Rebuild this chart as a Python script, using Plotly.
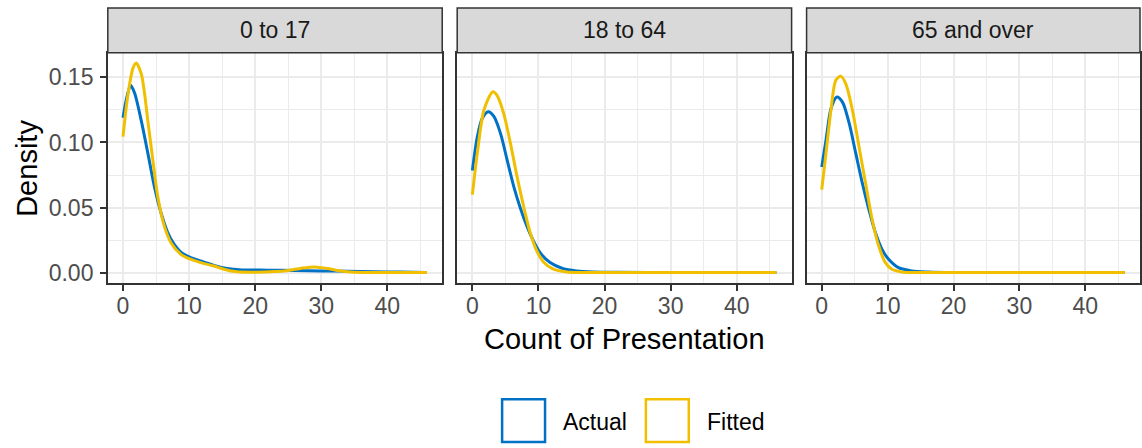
import plotly.graph_objects as go

# ---- data ----
panels = ["0 to 17", "18 to 64", "65 and over"]
series_names = ["Actual", "Fitted"]
series_colors = ["#0072C6", "#F0C000"]

p1_actual_x = [0, 0.5, 1.15, 1.75, 2.75, 3.75, 4.75, 5.75, 6.75, 7.75, 8.75, 10, 11.75, 13.75, 15.75, 18, 22, 26, 30, 34, 38, 42, 46]
p1_actual_y = [0.119, 0.133, 0.144, 0.138, 0.117, 0.092, 0.066, 0.046, 0.031, 0.0217, 0.0158, 0.0122, 0.0089, 0.0056, 0.0032, 0.0021, 0.0019, 0.0016, 0.0013, 0.0010, 0.0007, 0.0004, 0.0001]
p1_fitted_x = [0, 0.5, 1.0, 1.5, 2.0, 2.75, 3.25, 3.75, 4.5, 5.25, 6.25, 7.25, 8.75, 10, 11.75, 13.75, 15.25, 17.25, 20, 23, 25, 27, 29, 31, 33, 35, 40, 46]
p1_fitted_y = [0.1045, 0.1275, 0.145, 0.157, 0.161, 0.153, 0.138, 0.117, 0.087, 0.0587, 0.0357, 0.023, 0.014, 0.0107, 0.0077, 0.0051, 0.0026, 0.0006, 0.0003, 0.0008, 0.0017, 0.0034, 0.0044, 0.0032, 0.0012, 0.0003, 0.0001, 0.0]

p2_actual_x = [0, 0.75, 1.5, 2.4, 3.25, 4.25, 5.25, 6.25, 7.25, 8.25, 9.25, 10.25, 11.75, 13.75, 15.75, 18.25, 22, 30, 46]
p2_actual_y = [0.0785, 0.1045, 0.1186, 0.1237, 0.120, 0.107, 0.0867, 0.0663, 0.0497, 0.0357, 0.0242, 0.0153, 0.0077, 0.003, 0.0013, 0.0005, 0.0002, 0.0001, 0.0]
p2_fitted_x = [0, 0.75, 1.75, 3.1, 3.75, 4.75, 5.75, 6.75, 7.75, 8.75, 9.75, 10.75, 12.25, 14.25, 17, 22, 46]
p2_fitted_y = [0.060, 0.092, 0.125, 0.139, 0.136, 0.122, 0.0995, 0.074, 0.051, 0.0306, 0.0166, 0.0082, 0.0026, 0.0005, 0.0001, 0.0, 0.0]

p3_actual_x = [0, 0.65, 1.4, 2.3, 3.15, 4.15, 5.15, 6.15, 7.15, 8.15, 9.15, 10.15, 11.65, 13.65, 16.15, 20, 46]
p3_actual_y = [0.0811, 0.102, 0.126, 0.135, 0.131, 0.115, 0.092, 0.0689, 0.0485, 0.0306, 0.0179, 0.0102, 0.0038, 0.0013, 0.0005, 0.0001, 0.0]
p3_fitted_x = [0, 0.65, 1.4, 2.15, 2.9, 3.65, 4.65, 5.65, 6.65, 7.65, 8.65, 9.65, 10.65, 12.15, 14, 20, 46]
p3_fitted_y = [0.0638, 0.092, 0.125, 0.148, 0.151, 0.145, 0.125, 0.097, 0.0689, 0.0408, 0.0204, 0.0077, 0.0026, 0.0005, 0.0001, 0.0, 0.0]

x_ticks = [0, 10, 20, 30, 40]
y_ticks = [0.00, 0.05, 0.10, 0.15]
y_tick_labels = ["0.00", "0.05", "0.10", "0.15"]
x_title = "Count of Presentation"
y_title = "Density"

curves = [
    [(p1_actual_x, p1_actual_y), (p1_fitted_x, p1_fitted_y)],
    [(p2_actual_x, p2_actual_y), (p2_fitted_x, p2_fitted_y)],
    [(p3_actual_x, p3_actual_y), (p3_fitted_x, p3_fitted_y)],
]

# ---- layout geometry ----
W, H = 1142, 448
FONT = "Liberation Sans, Arial, Helvetica, sans-serif"
TICK_SIZE = 23
TITLE_SIZE = 29
panel_px = [(108, 443), (458, 793), (808, 1142)]
panel_top, panel_bot = 53, 285
strip_top = 8

def px_x(p):
    return p / W

def px_y(p):
    return 1 - p / H

xmax_all = 46
xr = [-0.05 * xmax_all, xmax_all * 1.05]
ymax_all = max(max(p1_fitted_y), max(p1_actual_y))
yr = [-0.05 * ymax_all, ymax_all * 1.05]

fig = go.Figure()
for i, pair in enumerate(curves):
    for j, (xs, ys) in enumerate(pair):
        fig.add_trace(go.Scatter(
            x=xs, y=ys, mode="lines",
            line=dict(color=series_colors[j], width=3, shape="spline", smoothing=0.8),
            name=series_names[j], showlegend=False,
            xaxis="x" if i == 0 else f"x{i+1}",
            yaxis="y" if i == 0 else f"y{i+1}",
        ))

grid_major = "#EBEBEB"
layout = dict(
    width=W, height=H, autosize=False,
    margin=dict(l=0, r=0, t=0, b=0),
    paper_bgcolor="white", plot_bgcolor="white",
    font=dict(family=FONT),
    showlegend=False,
)
for i, (a, b) in enumerate(panel_px):
    sx = "" if i == 0 else str(i + 1)
    layout[f"xaxis{sx}"] = dict(
        domain=[px_x(a), px_x(b)], range=xr, anchor=f"y{sx}",
        tickvals=x_ticks, ticks="outside", ticklen=6, tickwidth=2, tickcolor="#333333",
        tickfont=dict(size=TICK_SIZE, color="#4D4D4D", family=FONT),
        ticklabelstandoff=-4,
        showgrid=True, gridcolor=grid_major, gridwidth=2,
        minor=dict(dtick=5, tick0=0, showgrid=True, gridcolor=grid_major, gridwidth=1, ticks=""),
        showline=True, mirror=True, linecolor="#333333", linewidth=1.5,
        zeroline=False, fixedrange=True,
    )
    layout[f"yaxis{sx}"] = dict(
        domain=[px_y(panel_bot), px_y(panel_top)], range=yr, anchor=f"x{sx}",
        tickvals=y_ticks, ticktext=y_tick_labels,
        ticks="outside" if i == 0 else "", ticklen=6, tickwidth=2, tickcolor="#333333",
        showticklabels=(i == 0),
        tickfont=dict(size=TICK_SIZE, color="#4D4D4D", family=FONT),
        ticklabelstandoff=2,
        showgrid=True, gridcolor=grid_major, gridwidth=2,
        minor=dict(dtick=0.025, tick0=0, showgrid=True, gridcolor=grid_major, gridwidth=1, ticks=""),
        showline=True, mirror=True, linecolor="#333333", linewidth=1.5,
        zeroline=False, fixedrange=True,
    )
fig.update_layout(**layout)

shapes = []
annotations = []
for i, (a, b) in enumerate(panel_px):
    shapes.append(dict(type="rect", xref="paper", yref="paper",
                       x0=px_x(a), x1=px_x(b), y0=px_y(panel_top), y1=px_y(strip_top),
                       fillcolor="#D9D9D9", line=dict(color="#333333", width=1.5), layer="above"))
    annotations.append(dict(xref="paper", yref="paper", x=px_x((a + b) / 2),
                            y=px_y((panel_top + strip_top) / 2), text=panels[i],
                            showarrow=False, xanchor="center", yanchor="middle",
                            font=dict(size=TICK_SIZE, color="#1A1A1A", family=FONT)))

# axis titles
annotations.append(dict(xref="paper", yref="paper", x=px_x(626),
                        y=px_y(341), text=x_title, showarrow=False,
                        xanchor="center", yanchor="middle",
                        font=dict(size=TITLE_SIZE, color="black", family=FONT)))
annotations.append(dict(xref="paper", yref="paper", x=px_x(27),
                        y=px_y((panel_top + panel_bot) / 2), text=y_title, showarrow=False,
                        textangle=-90, xanchor="center", yanchor="middle",
                        font=dict(size=TITLE_SIZE, color="black", family=FONT)))

# legend (manual keys, like ggplot's outlined squares)
legend_boxes = [(503, 546), (647, 690)]
legend_text_x = [562, 706]
for k in range(2):
    a, b = legend_boxes[k]
    shapes.append(dict(type="rect", xref="paper", yref="paper",
                       x0=px_x(a), x1=px_x(b), y0=px_y(445), y1=px_y(402),
                       fillcolor="white", line=dict(color=series_colors[k], width=2.5)))
    annotations.append(dict(xref="paper", yref="paper", x=px_x(legend_text_x[k]),
                            y=px_y(425), text=series_names[k], showarrow=False,
                            xanchor="left", yanchor="middle",
                            font=dict(size=TICK_SIZE, color="black", family=FONT)))

fig.update_layout(shapes=shapes, annotations=annotations)
fig.write_html("out.html", config={"displayModeBar": False},
               post_script="document.body.style.margin='0';document.body.style.overflow='hidden';")
